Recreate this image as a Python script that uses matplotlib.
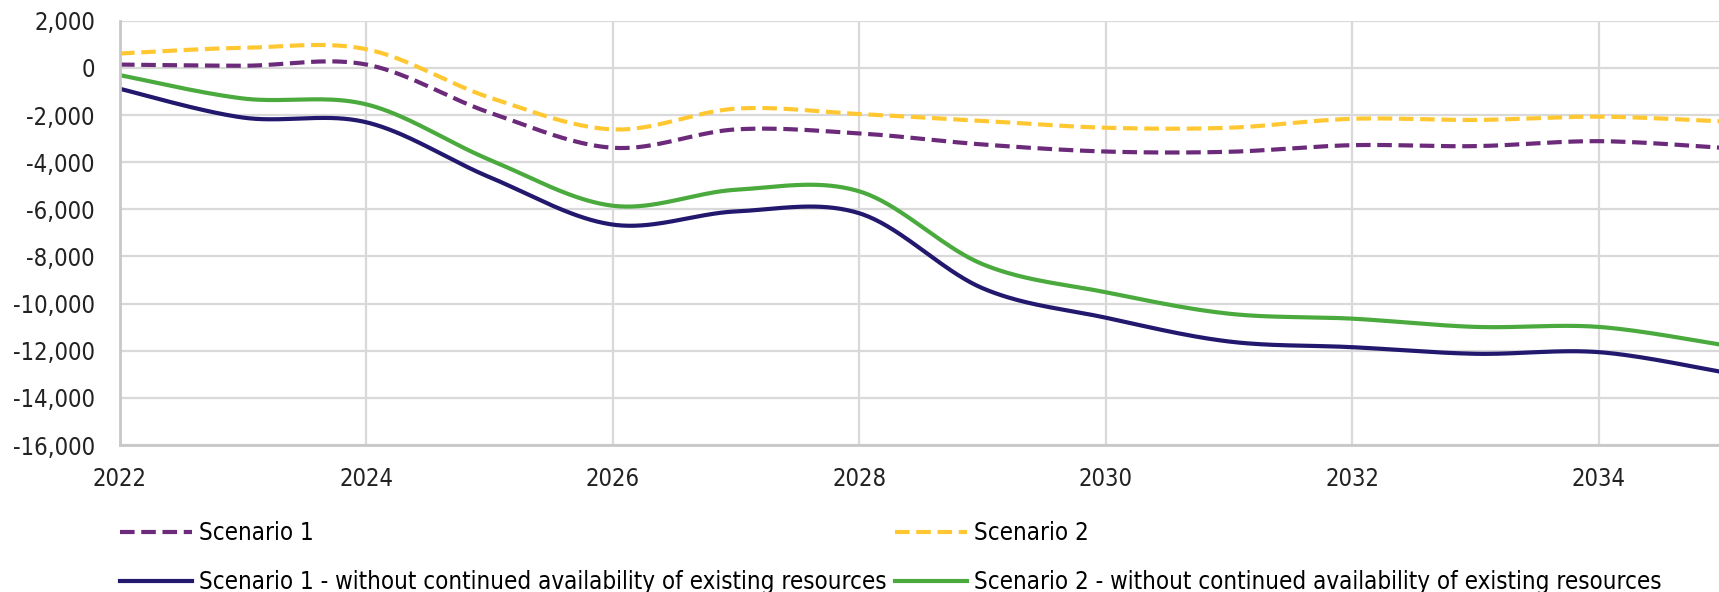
import numpy as np
import matplotlib
matplotlib.use("Agg")
import matplotlib.pyplot as plt
import matplotlib.ticker as mticker

# yearly values, 2022-2035
years = [2022, 2023, 2024, 2025, 2026, 2027, 2028, 2029, 2030, 2031, 2032, 2033, 2034, 2035]
scenario1 = [140, 90, 140, -1900, -3390, -2610, -2780, -3250, -3550, -3560, -3280, -3320, -3110, -3390]
scenario2 = [610, 850, 790, -1260, -2610, -1730, -1960, -2250, -2540, -2540, -2160, -2210, -2070, -2270]
scenario1_wo = [-890, -2110, -2310, -4640, -6650, -6090, -6170, -9350, -10600, -11610, -11850, -12130, -12060, -12900]
scenario2_wo = [-310, -1300, -1550, -3900, -5850, -5170, -5240, -8330, -9520, -10430, -10640, -10990, -10990, -11750]

labels = ["Scenario 1",
          "Scenario 1 - without continued availability of existing resources",
          "Scenario 2",
          "Scenario 2 - without continued availability of existing resources"]

yticks = np.arange(-16000, 2001, 2000)
xticks = np.arange(2022, 2035, 2)


def smooth(x, y, n=40):
    """Catmull-Rom style smoothing through every point (spreadsheet 'smoothed line')."""
    x = np.asarray(x, float)
    y = np.asarray(y, float)
    xp = np.concatenate([[x[0]], x, [x[-1]]])
    yp = np.concatenate([[y[0]], y, [y[-1]]])
    xs, ys = [], []
    t = np.linspace(0, 1, n)
    for i in range(len(x) - 1):
        p0x, p3x = x[i], x[i + 1]
        p0y, p3y = y[i], y[i + 1]
        p1x = p0x + (xp[i + 2] - xp[i]) / 6
        p1y = p0y + (yp[i + 2] - yp[i]) / 6
        p2x = p3x - (xp[i + 3] - xp[i + 1]) / 6
        p2y = p3y - (yp[i + 3] - yp[i + 1]) / 6
        bx = (1 - t) ** 3 * p0x + 3 * (1 - t) ** 2 * t * p1x + 3 * (1 - t) * t ** 2 * p2x + t ** 3 * p3x
        by = (1 - t) ** 3 * p0y + 3 * (1 - t) ** 2 * t * p1y + 3 * (1 - t) * t ** 2 * p2y + t ** 3 * p3y
        xs.append(bx if i == 0 else bx[1:])
        ys.append(by if i == 0 else by[1:])
    return np.concatenate(xs), np.concatenate(ys)


plt.rcParams['font.family'] = ['DejaVu Sans']
plt.rcParams['font.stretch'] = 'condensed'

fig = plt.figure(figsize=(17.19, 5.92), dpi=100)
ax = fig.add_axes([0.0698, 0.2483, 0.9320, 0.7167])

purple = '#6b2a7a'
yellow = '#ffc832'
navy = '#22186e'
green = '#4aaa3e'
lw = 3.0
dash = (3.5, 1.6)

h1, = ax.plot(*smooth(years, scenario1), color=purple, lw=lw, dashes=dash, dash_capstyle='butt')
h2, = ax.plot(*smooth(years, scenario2), color=yellow, lw=lw, dashes=dash, dash_capstyle='butt')
h3, = ax.plot(*smooth(years, scenario1_wo), color=navy, lw=lw)
h4, = ax.plot(*smooth(years, scenario2_wo), color=green, lw=lw)

ax.set_xlim(2022, 2035)
ax.set_ylim(-16000, 2000)
ax.set_xticks(xticks)
ax.set_yticks(yticks)
ax.yaxis.set_major_formatter(mticker.FuncFormatter(lambda v, p: f"{v:,.0f}"))
ax.xaxis.set_major_formatter(mticker.FuncFormatter(lambda v, p: f"{v:.0f}"))

ax.grid(True, color='#d9d9d9', lw=1.6)
ax.set_axisbelow(True)
for side in ['top', 'right']:
    ax.spines[side].set_visible(False)
for side in ['left', 'bottom']:
    ax.spines[side].set_color('#c8c8c8')
    ax.spines[side].set_linewidth(2.0)
ax.tick_params(axis='both', length=0, labelsize=17, colors='#222222')
ax.tick_params(axis='y', pad=18)
ax.tick_params(axis='x', pad=16)

fig.legend([h1, h3, h2, h4], labels, ncol=2, loc='upper left',
           bbox_to_anchor=(120 / 1719, 1 - 521 / 592), frameon=False,
           fontsize=17.3, handlelength=3.0, handletextpad=0.3,
           columnspacing=0.35, labelspacing=1.05, borderpad=0, borderaxespad=0)

fig.savefig('out.png', dpi=100)
